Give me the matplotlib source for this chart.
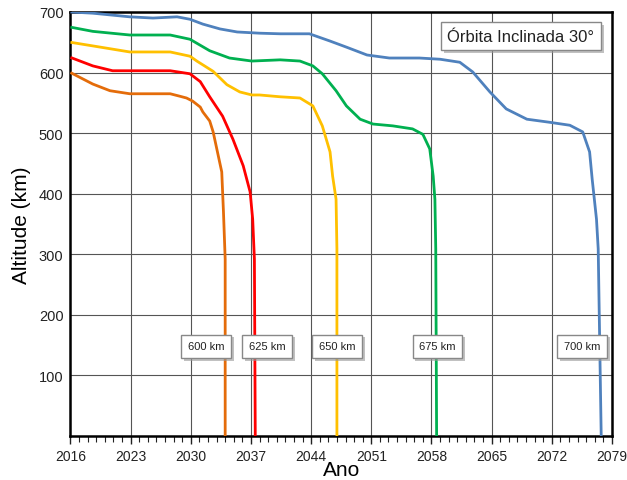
import matplotlib.pyplot as plt
from matplotlib.ticker import MultipleLocator
import matplotlib.patheffects as pe

plt.rcParams['font.family'] = ['Liberation Sans', 'DejaVu Sans']

# dados (ano, altitude km)
ano_600 = [2016.0, 2018.6, 2020.6, 2022.9, 2027.6, 2028.7, 2029.5, 2030.2, 2031.1, 2031.4, 2032.2, 2032.6,
           2033.1, 2033.6, 2033.7, 2033.8, 2034.0, 2034.0]
alt_600 = [600, 581, 570, 565, 565, 561, 558, 553, 543, 535, 520, 502, 469, 436, 403, 370, 292, 0]

ano_625 = [2016.0, 2018.6, 2020.9, 2027.6, 2029.9, 2031.1, 2032.2, 2033.7, 2034.9, 2036.1, 2036.9, 2037.2,
           2037.4, 2037.5]
alt_625 = [625, 611, 603, 603, 598, 585, 560, 528, 490, 446, 403, 358, 292, 0]

ano_650 = [2016.0, 2018.6, 2022.9, 2027.6, 2029.9, 2030.7, 2032.6, 2034.2, 2035.7, 2037.1, 2038.0, 2040.4,
           2042.7, 2044.2, 2045.3, 2046.2, 2046.5, 2046.9, 2047.0, 2047.0]
alt_650 = [650, 644, 634, 634, 627, 619, 602, 580, 568, 563, 563, 560, 558, 545, 512, 469, 429, 391, 309, 0]

ano_675 = [2016.0, 2018.6, 2022.9, 2027.6, 2029.9, 2032.2, 2034.5, 2037.1, 2040.4, 2042.7, 2044.2, 2045.3,
           2046.9, 2048.1, 2049.7, 2051.2, 2053.5, 2055.8, 2057.0, 2057.8, 2058.2, 2058.4, 2058.5, 2058.6]
alt_675 = [675, 668, 662, 662, 655, 636, 624, 619, 621, 619, 611, 598, 570, 545, 523, 515, 512, 507, 498,
           474, 429, 391, 309, 0]

ano_700 = [2016.0, 2018.6, 2022.9, 2025.6, 2028.4, 2029.9, 2031.4, 2033.4, 2035.4, 2038.0, 2040.4, 2043.8,
           2046.2, 2048.1, 2050.5, 2053.1, 2056.6, 2059.0, 2061.3, 2062.8, 2064.8, 2066.7, 2069.1, 2071.7,
           2074.1, 2075.6, 2076.4, 2076.7, 2077.2, 2077.4, 2077.75]
alt_700 = [700, 698, 692, 690, 692, 688, 680, 672, 667, 665, 664, 664, 652, 642, 629, 624, 624, 622, 617,
           601, 568, 540, 523, 518, 513, 502, 469, 424, 358, 309, 0]

rotulos = ['600 km', '625 km', '650 km', '675 km', '700 km']
pos_rotulo = [2031.75, 2038.9, 2047.0, 2058.7, 2075.5]
cores = ['#E46C0A', '#FF0000', '#FFC000', '#00B050', '#4F81BD']

fig = plt.figure(figsize=(6.27, 4.81), dpi=100)
ax = fig.add_axes([0.1124, 0.0915, 0.8636, 0.8815])

series = [(ano_600, alt_600), (ano_625, alt_625), (ano_650, alt_650),
          (ano_675, alt_675), (ano_700, alt_700)]
for (x, y), c in zip(series, cores):
    ax.plot(x, y, color=c, lw=2.0, solid_joinstyle='round', solid_capstyle='butt', zorder=3)

ax.set_xlim(2016, 2079)
ax.set_ylim(0, 700)
ax.xaxis.set_major_locator(MultipleLocator(7))
ax.xaxis.set_minor_locator(MultipleLocator(1))
ax.set_yticks([100, 200, 300, 400, 500, 600, 700])
ax.grid(True, which='major', color='#555555', lw=0.8, zorder=0)
ax.tick_params(axis='x', which='major', length=6, width=1, labelsize=10, colors='#222222')
ax.tick_params(axis='x', which='minor', length=4, width=0.8, color='#222222')
ax.tick_params(axis='y', length=0, labelsize=10.5, colors='#222222', pad=5)
for s in ax.spines.values():
    s.set_linewidth(1.8)
    s.set_color('black')

ax.set_xlabel('Ano', fontsize=15, labelpad=-2)
ax.set_ylabel('Altitude (km)', fontsize=15, labelpad=6)

sombra = [pe.withSimplePatchShadow(offset=(2, -2), shadow_rgbFace='#999999', alpha=0.6)]
for t, xp in zip(rotulos, pos_rotulo):
    txt = ax.text(xp, 148, t, ha='center', va='center', fontsize=8, color='#222222', zorder=5,
                  bbox=dict(boxstyle='square,pad=0.6', fc='white', ec='#888888', lw=1))
    txt.get_bbox_patch().set_path_effects(sombra)

tit = ax.text(0.832, 0.943, 'Órbita Inclinada 30°', transform=ax.transAxes, ha='center', va='center',
              fontsize=12, color='#222222', zorder=5,
              bbox=dict(boxstyle='square,pad=0.4', fc='white', ec='#888888', lw=1))
tit.get_bbox_patch().set_path_effects(sombra)

fig.savefig('out.png', dpi=100)
